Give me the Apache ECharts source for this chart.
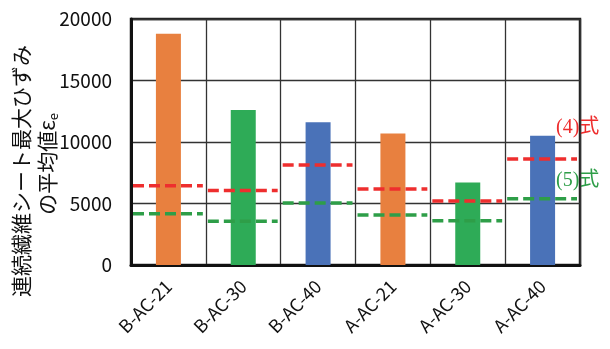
<!DOCTYPE html>
<html>
<head>
<meta charset="utf-8">
<script src="https://cdn.jsdelivr.net/npm/echarts@6/dist/echarts.min.js"></script>
<style>
  html, body { margin: 0; padding: 0; background: #fff; }
  #chart { width: 610px; height: 349px; }
</style>
</head>
<body>
<div id="chart"></div>
<script>
// Specimens and their mean maximum strain of the continuous fibre sheet
const categories = ['B-AC-21', 'B-AC-30', 'B-AC-40', 'A-AC-21', 'A-AC-30', 'A-AC-40'];
const measured = [18800, 12600, 11600, 10700, 6700, 10500];
const barColors = ['#E8803F', '#2EAB57', '#4A72B8', '#E8803F', '#2EAB57', '#4A72B8'];
// Predictions by equation (4) and equation (5)
const eq4 = [6450, 6050, 8130, 6180, 5200, 8620];
const eq5 = [4170, 3550, 5040, 4070, 3600, 5390];
const yTicks = { min: 0, max: 20000, interval: 5000 };

const FONT = '"Noto Sans CJK JP", "Noto Sans", sans-serif';
const SERIF = '"Liberation Serif", "DejaVu Serif", "Noto Sans CJK JP", serif';

// Horizontal dashed segment spanning one category band
function dashRenderer(color) {
  return function (params, api) {
    const c = api.value(0);
    const v = api.value(1);
    const p = api.coord([c, v]);
    const w = api.size([1, 0])[0];
    return {
      type: 'line',
      shape: { x1: p[0] - w / 2 + 2, y1: p[1], x2: p[0] + w / 2 - 3, y2: p[1] },
      style: { stroke: color, lineWidth: 3.5, lineDash: [11, 5] }
    };
  };
}

const chart = echarts.init(document.getElementById('chart'), null, { renderer: 'canvas' });
chart.setOption({
  animation: false,
  backgroundColor: '#fff',
  grid: {
    left: 131, right: 30, top: 19, bottom: 84,
    show: true, borderColor: '#222', borderWidth: 2.5, backgroundColor: 'transparent'
  },
  xAxis: {
    type: 'category',
    data: categories,
    axisLine: { show: true, lineStyle: { color: '#111', width: 3 } },
    axisTick: { show: false },
    splitLine: { show: true, interval: 0, lineStyle: { color: '#333', width: 1.3 } },
    axisLabel: {
      interval: 0, rotate: 45, margin: 18,
      fontFamily: FONT, fontSize: 18, color: '#111'
    }
  },
  yAxis: {
    type: 'value',
    min: yTicks.min, max: yTicks.max, interval: yTicks.interval,
    axisLine: { show: true, lineStyle: { color: '#111', width: 3 } },
    axisTick: { show: false },
    splitLine: { show: true, lineStyle: { color: '#333', width: 1.3 } },
    axisLabel: {
      margin: 19, fontFamily: FONT, fontSize: 19, color: '#111',
      formatter: v => String(v)
    }
  },
  series: [
    {
      type: 'bar',
      barWidth: 25,
      data: measured.map((v, i) => ({ value: v, itemStyle: { color: barColors[i] } })),
      z: 2
    },
    {
      type: 'custom',
      renderItem: dashRenderer('#EE2E2E'),
      data: eq4.map((v, i) => [i, v]),
      encode: { x: 0, y: 1 },
      z: 3
    },
    {
      type: 'custom',
      renderItem: dashRenderer('#2E9E48'),
      data: eq5.map((v, i) => [i, v]),
      encode: { x: 0, y: 1 },
      z: 3
    }
  ],
  graphic: [
    {
      type: 'text', x: 21, y: 171, rotation: Math.PI / 2,
      style: {
        text: '連続繊維シート最大ひずみ',
        font: '21px ' + FONT, fill: '#111',
        align: 'center', verticalAlign: 'middle'
      }
    },
    {
      type: 'text', x: 47, y: 164, rotation: Math.PI / 2,
      style: {
        text: '{a|の平均値ε}{s|e}',
        align: 'center', verticalAlign: 'middle',
        rich: {
          a: { fontFamily: FONT, fontSize: 21, fill: '#111', lineHeight: 26 },
          s: { fontFamily: FONT, fontSize: 13, fill: '#111', lineHeight: 26, verticalAlign: 'bottom', padding: [10, 0, 0, 0] }
        }
      }
    },
    {
      type: 'text', x: 556, y: 128,
      style: { text: '(4)式', font: '20px ' + SERIF, fill: '#EE2E2E', align: 'left', verticalAlign: 'middle' }
    },
    {
      type: 'text', x: 556, y: 181,
      style: { text: '(5)式', font: '20px ' + SERIF, fill: '#2E9E48', align: 'left', verticalAlign: 'middle' }
    }
  ]
});
</script>
</body>
</html>
